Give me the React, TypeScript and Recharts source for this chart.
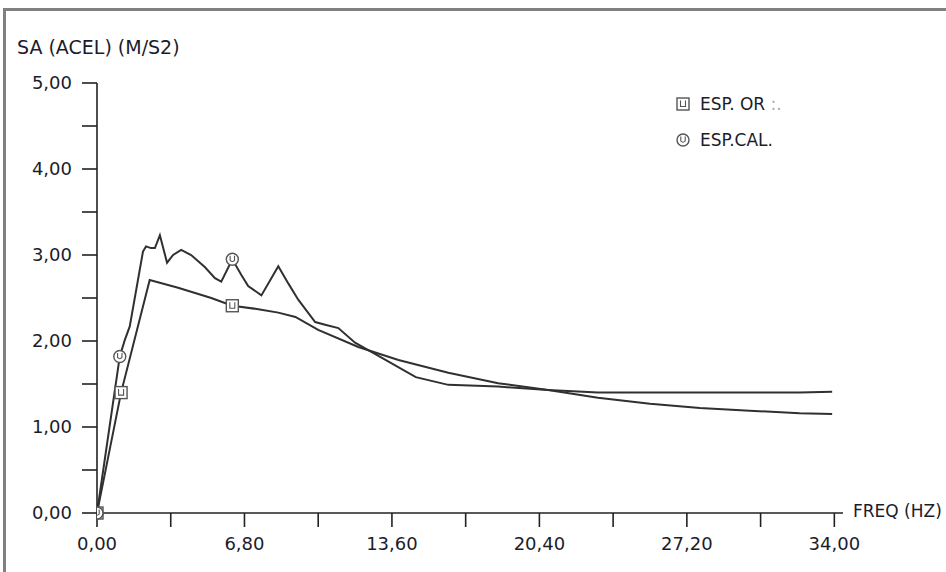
import React from "react";
import { Line, LineChart, XAxis, YAxis } from "recharts";

// ESP. OR (smooth curve, square markers)
const orFreq = [0, 1.11, 2.43, 3.74, 5.27, 6.24, 7.44, 8.36, 9.15, 10.2, 12.05, 13.9, 16.2, 18.5, 20.8, 23.1, 25.5, 27.8, 30.1, 32.4, 33.9];
const orSa = [0, 1.4, 2.71, 2.62, 2.5, 2.41, 2.37, 2.33, 2.28, 2.13, 1.93, 1.78, 1.63, 1.51, 1.43, 1.34, 1.27, 1.22, 1.19, 1.16, 1.15];
const orMarkers = [0, 1, 5];

// ESP. CAL (jagged curve, circle markers)
const calFreq = [0, 1.05, 1.28, 1.51, 2.12, 2.26, 2.49, 2.67, 2.9, 3.23, 3.51, 3.88, 4.34, 4.97, 5.44, 5.73, 6.24, 6.65, 6.97, 7.58, 8.36, 8.82, 9.28, 10.06, 10.52, 11.13, 11.9, 13.1, 14.7, 16.2, 18.5, 20.8, 23.1, 25.5, 27.8, 32.4, 33.9];
const calSa = [0, 1.82, 2.01, 2.17, 3.04, 3.1, 3.08, 3.08, 3.23, 2.91, 3.0, 3.06, 3.0, 2.86, 2.73, 2.69, 2.95, 2.77, 2.64, 2.53, 2.87, 2.67, 2.48, 2.22, 2.19, 2.15, 1.98, 1.81, 1.58, 1.49, 1.47, 1.43, 1.4, 1.4, 1.4, 1.4, 1.41];
const calMarkers = [0, 1, 16];

const freqTicks = [0, 3.4, 6.8, 10.2, 13.6, 17, 20.4, 23.8, 27.2, 30.6, 34];
const saTicks = [0, 0.5, 1, 1.5, 2, 2.5, 3, 3.5, 4, 4.5, 5];

const orData = orFreq.map((f, i) => ({ f, v: orSa[i] }));
const calData = calFreq.map((f, i) => ({ f, v: calSa[i] }));

const FONT = "'DejaVu Sans', sans-serif";
const INK = "#303030";
const TXT = "#1c1c2a";

const fmt = (v: number) => v.toFixed(2).replace(".", ",");

const SquareMark = ({ cx, cy }: { cx: number; cy: number }) => (
  <g>
    <rect x={cx - 6} y={cy - 6} width={12} height={12} fill="#fff" stroke="#555" strokeWidth={1.4} />
    <path d={`M${cx - 2.5},${cy - 3.5} V${cy + 2.5} H${cx + 2.5} V${cy - 3.5}`} fill="none" stroke="#555" strokeWidth={1.1} />
  </g>
);

const CircleMark = ({ cx, cy }: { cx: number; cy: number }) => (
  <g>
    <circle cx={cx} cy={cy} r={6} fill="#fff" stroke="#555" strokeWidth={1.4} />
    <path d={`M${cx - 2.2},${cy - 3.5} V${cy + 1} Q${cx},${cy + 3.5} ${cx + 2.2},${cy + 1} V${cy - 3.5}`} fill="none" stroke="#555" strokeWidth={1.1} />
  </g>
);

const makeDot = (marks: number[], kind: "sq" | "ci") => (props: any) => {
  const { cx, cy, index } = props;
  if (!marks.includes(index)) return <g key={`d${kind}${index}`} />;
  return (
    <g key={`d${kind}${index}`}>
      {kind === "sq" ? <SquareMark cx={cx} cy={cy} /> : <CircleMark cx={cx} cy={cy} />}
    </g>
  );
};

const XTick = (props: any) => {
  const { x, y, payload, index } = props;
  if (index % 2 !== 0) return <g />;
  return (
    <text x={x} y={y + 21} textAnchor="middle" fontFamily={FONT} fontSize={18} fill={TXT}>
      {fmt(payload.value)}
    </text>
  );
};

const YTick = (props: any) => {
  const { x, y, payload } = props;
  if (!Number.isInteger(payload.value)) return <g />;
  return (
    <text x={x} y={y + 6} textAnchor="end" fontFamily={FONT} fontSize={18} fill={TXT}>
      {fmt(payload.value)}
    </text>
  );
};

const LegendBox = () => (
  <svg width={200} height={60} style={{ position: "absolute", left: 675, top: 94, overflow: "visible" }}>
    <SquareMark cx={8} cy={10} />
    <text x={25} y={16} fontFamily={FONT} fontSize={17} fill={TXT}>
      ESP. OR <tspan fill="#aaa">:.</tspan>
    </text>
    <CircleMark cx={8} cy={46} />
    <text x={25} y={52} fontFamily={FONT} fontSize={17} fill={TXT}>
      ESP.CAL.
    </text>
  </svg>
);

export default function App() {
  return (
    <div style={{ position: "absolute", left: 0, top: 0, width: 946, height: 572, background: "#fff", overflow: "hidden" }}>
      <div
        style={{
          position: "absolute",
          left: 3,
          top: 8,
          width: 960,
          height: 600,
          borderTop: "3px solid #808080",
          borderLeft: "3px solid #808080",
        }}
      />
      <LineChart width={946} height={572} margin={{ top: 83, right: 103, bottom: 29, left: 37 }}>
        <XAxis
          type="number"
          dataKey="f"
          domain={[0, 34.4]}
          ticks={freqTicks}
          interval={0}
          allowDataOverflow
          height={30}
          stroke="#222"
          strokeWidth={1.6}
          tickSize={14}
          tick={<XTick />}
        />
        <YAxis
          type="number"
          dataKey="v"
          domain={[0, 5]}
          ticks={saTicks}
          interval={0}
          width={60}
          stroke="#222"
          strokeWidth={1.6}
          tickSize={15}
          tickMargin={10}
          tick={<YTick />}
        />
        <Line
          data={orData}
          dataKey="v"
          type="linear"
          stroke={INK}
          strokeWidth={2}
          dot={makeDot(orMarkers, "sq")}
          activeDot={false}
          isAnimationActive={false}
        />
        <Line
          data={calData}
          dataKey="v"
          type="linear"
          stroke={INK}
          strokeWidth={2}
          dot={makeDot(calMarkers, "ci")}
          activeDot={false}
          isAnimationActive={false}
        />
      </LineChart>
      <LegendBox />
      <div style={{ position: "absolute", left: 17, top: 36, fontFamily: FONT, fontSize: 19, color: TXT, whiteSpace: "nowrap" }}>
        SA (ACEL) (M/S2)
      </div>
      <div style={{ position: "absolute", left: 853, top: 501, fontFamily: FONT, fontSize: 17, color: TXT, whiteSpace: "nowrap" }}>
        FREQ (HZ)
      </div>
    </div>
  );
}
